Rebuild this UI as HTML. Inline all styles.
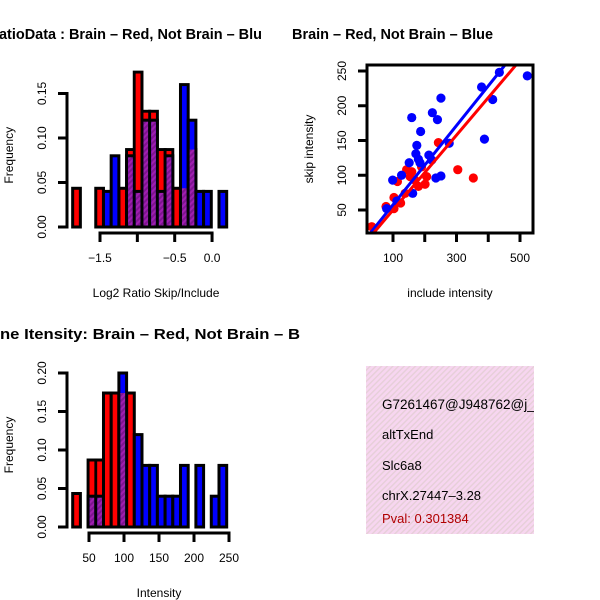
<!DOCTYPE html>
<html><head><meta charset="utf-8"><style>
html,body{margin:0;padding:0;background:#fff;}
svg{display:block;font-family:"Liberation Sans",Arial,sans-serif;}
</style></head><body>
<svg id="c" width="600" height="600" viewBox="0 0 600 600" xmlns="http://www.w3.org/2000/svg">
<defs>
<pattern id="pp" patternUnits="userSpaceOnUse" width="4" height="4" patternTransform="rotate(45)">
<rect width="4" height="4" fill="#a01fb0"/><rect width="2" height="4" fill="#7e1590"/>
</pattern>
<pattern id="pk" patternUnits="userSpaceOnUse" width="4" height="4" patternTransform="rotate(45)">
<rect width="4" height="4" fill="#f7d6f0"/><rect width="1.4" height="4" fill="#e6cfd8"/>
</pattern>
<clipPath id="sc"><rect x="367" y="65" width="166" height="168"/></clipPath>
<clipPath id="left"><rect x="0" y="0" width="300" height="600"/></clipPath>
</defs>
<g clip-path="url(#left)">
<text x="-1" y="39" font-size="14.5" font-weight="bold" textLength="263" lengthAdjust="spacingAndGlyphs">atioData : Brain – Red, Not Brain – Blu</text>
<text x="0" y="339" font-size="14.5" font-weight="bold" textLength="300" lengthAdjust="spacingAndGlyphs">ne Itensity: Brain – Red, Not Brain – B</text>
</g>
<text x="292" y="39" font-size="14.5" font-weight="bold" textLength="201" lengthAdjust="spacingAndGlyphs">Brain – Red, Not Brain – Blue</text>
<g id="h1"></g>
<g id="h2"></g>
<g id="sp"></g>
<g>
<rect x="366" y="366" width="168" height="168" fill="url(#pk)"/>
<svg x="366" y="366" width="168" height="168" overflow="hidden">
<text x="16" y="43" font-size="13.5">G7261467@J948762@j_</text>
<text x="16" y="73" font-size="13">altTxEnd</text>
<text x="16" y="104" font-size="13">Slc6a8</text>
<text x="16" y="134" font-size="13">chrX.27447–3.28</text>
<text x="16" y="157" font-size="13" fill="#b00000">Pval: 0.301384</text>
</svg>
</g>
</svg>
<script>
// ratio histogram data (frequency per bin)
const h1BinStart = -1.866;
const h1BinWidth = 0.1031;
const h1Red  = [0.0435,0,0,0.0435,0,0,0.0435,0.087,0.174,0.13,0.13,0.087,0.087,0.0435,0.0435,0.087,0,0,0,0];
const h1Blue = [0,0,0,0,0.04,0.08,0,0.08,0.04,0.12,0.12,0.04,0.08,0,0.16,0.12,0.04,0.04,0,0.04];
const h1XTicks = [-1.5,-1.0,-0.5,0.0];
const h1XLabels = ["-1.5","","-0.5","0.0"];
const h1YTicks = [0,0.05,0.10,0.15];
const h1YLabels = ["0.00","0.05","0.10","0.15"];
// intensity histogram data
const h2BinStart = 26.7;
const h2BinWidth = 11;
const h2Red  = [0.0435,0,0.087,0.087,0.174,0.174,0.174,0.174,0,0,0,0,0,0,0,0,0,0,0,0];
const h2Blue = [0,0,0.04,0.04,0,0,0.20,0,0.12,0.08,0.08,0.04,0.04,0.04,0.08,0,0.08,0,0.04,0.08];
const h2XTicks = [50,100,150,200,250];
const h2XLabels = ["50","100","150","200","250"];
const h2YTicks = [0,0.05,0.10,0.15,0.20];
const h2YLabels = ["0.00","0.05","0.10","0.15","0.20"];
// scatter data
const blueX = [523,435,379,414,251,159,224,240,187,388,277,175,172,180,151,213,222,127,99,251,235,162,112,80,185];
const blueY = [243,248,227,209,211,183,190,180,163,152,146,143,131,123,118,129,122,100,93,99,96,74,63,52,118];
const redX = [33,78,103,103,124,138,143,154,159,180,190,206,201,243,304,353,114,169];
const redY = [26,55,52,68,60,74,108,98,105,84,112,98,87,147,108,96,91,93];
const blueFit = [0.5,0.570];
const redFit = [-4.0,0.539];
const spXTicks = [100,200,300,400,500];
const spXLabels = ["100","","300","","500"];
const spYTicks = [50,100,150,200,250];
const spYLabels = ["50","100","150","200","250"];

const NS="http://www.w3.org/2000/svg";
function mk(parent,tag,attrs,text){const e=document.createElementNS(NS,tag);for(const k in attrs)e.setAttribute(k,attrs[k]);if(text!==undefined)e.textContent=text;parent.appendChild(e);return e;}

function hist(g,start,w,red,blue,xt,xl,yt,yl,xPx,yPx,axisY,xlab,yAxisX,name){
  const n=red.length;
  for(let i=0;i<n;i++){
    const x0=xPx(start+i*w),x1=xPx(start+(i+1)*w);
    const r=red[i];
    if(r>0){const e=mk(g,'rect',{x:x0,y:yPx(r),width:x1-x0,height:yPx(0)-yPx(r),fill:'#ff0000',stroke:'#000','stroke-width':3});
      
      }
  }
  for(let i=0;i<n;i++){
    const x0=xPx(start+i*w),x1=xPx(start+(i+1)*w);
    const r=red[i],b=blue[i],m=Math.min(r,b);
    if(b>0){const e=mk(g,'rect',{x:x0,y:yPx(b),width:x1-x0,height:yPx(0)-yPx(b),fill:'#0000ff',stroke:'#000','stroke-width':3});
      
      }
    if(m>0){const e=mk(g,'rect',{x:x0+1.5,y:yPx(m),width:x1-x0-3,height:yPx(0)-yPx(m)-1.5,fill:'url(#pp)'});
      
      }
  }
  for(let i=0;i<n;i++){
    const x0=xPx(start+i*w),x1=xPx(start+(i+1)*w);
    const r=red[i],b=blue[i];
    if(r>b&&b>0){mk(g,'rect',{x:x0+1.5,y:yPx(r)+1.5,width:x1-x0-3,height:yPx(b)-yPx(r)-1.5,fill:'#ff0000'});
      mk(g,'line',{x1:x0,x2:x1,y1:yPx(b),y2:yPx(b),stroke:'#000','stroke-width':3});}
  }
  const xa=mk(g,'g',{});
  
  
  mk(xa,'line',{x1:xPx(xt[0])-1.5,x2:xPx(xt[xt.length-1])+1.5,y1:axisY,y2:axisY,stroke:'#000','stroke-width':3});
  xt.forEach((t,i)=>{mk(xa,'line',{x1:xPx(t),x2:xPx(t),y1:axisY,y2:axisY+9,stroke:'#000','stroke-width':3});
    if(xl[i]){const e=mk(xa,'text',{x:xPx(t),y:axisY+29,'font-size':12,'text-anchor':'middle'},xl[i].replace('-','\u2212'));
      
      }});
  const xt2=mk(g,'text',{x:(xPx(xt[0])+xPx(xt[xt.length-1]))/2,y:axisY+64,'font-size':12,'text-anchor':'middle'},xlab);
  
  
  const ya=mk(g,'g',{});
  
  
  mk(ya,'line',{x1:yAxisX,x2:yAxisX,y1:yPx(yt[0])+1.5,y2:yPx(yt[yt.length-1])-1.5,stroke:'#000','stroke-width':3});
  yt.forEach((t,i)=>{mk(ya,'line',{x1:yAxisX-9,x2:yAxisX,y1:yPx(t),y2:yPx(t),stroke:'#000','stroke-width':3});
    const e=mk(ya,'text',{x:0,y:0,'font-size':12,'text-anchor':'middle',transform:`translate(46,${yPx(t)}) rotate(-90)`},yl[i]);
    
    });
  const yt2=mk(g,'text',{x:0,y:0,'font-size':12,'text-anchor':'middle',transform:`translate(13,${yPx(yt[0])-(yPx(yt[0])-yPx(yt[yt.length-1]))/2-5}) rotate(-90)`},'Frequency');
  
  
}
hist(document.getElementById('h1'),h1BinStart,h1BinWidth,h1Red,h1Blue,h1XTicks,h1XLabels,h1YTicks,h1YLabels,
  v=>100+(v+1.5)*74.7, v=>227-v/0.05*44.5, 233,'Log2 Ratio Skip/Include',67,'ratio');
hist(document.getElementById('h2'),h2BinStart,h2BinWidth,h2Red,h2Blue,h2XTicks,h2XLabels,h2YTicks,h2YLabels,
  v=>89+(v-50)*0.7, v=>527-v/0.05*38.5, 533,'Intensity',67,'intensity');

(function(){
  const g=document.getElementById('sp');
  const xPx=v=>393+(v-100)*0.3175, yPx=v=>210-(v-50)*0.695;
  const pts=mk(g,'g',{'clip-path':'url(#sc)'});
  redX.forEach((x,i)=>{const c=mk(pts,'circle',{cx:xPx(x),cy:yPx(redY[i]),r:4.6,fill:'#ff0000'});
    
    });
  blueX.forEach((x,i)=>{const c=mk(pts,'circle',{cx:xPx(x),cy:yPx(blueY[i]),r:4.6,fill:'#0000ff'});
    
    });
  const lb=mk(pts,'line',{x1:xPx(0),y1:yPx(blueFit[0]),x2:xPx(600),y2:yPx(blueFit[0]+blueFit[1]*600),stroke:'#0000ff','stroke-width':3});
  
  
  const lr=mk(pts,'line',{x1:xPx(0),y1:yPx(redFit[0]),x2:xPx(600),y2:yPx(redFit[0]+redFit[1]*600),stroke:'#ff0000','stroke-width':3});
  
  
  const box=mk(g,'rect',{x:367,y:65,width:166,height:168,fill:'none',stroke:'#000','stroke-width':3});
  
  
  spXTicks.forEach((t,i)=>{mk(g,'line',{x1:xPx(t),x2:xPx(t),y1:233,y2:242,stroke:'#000','stroke-width':3});
    if(spXLabels[i]){const e=mk(g,'text',{x:xPx(t),y:262,'font-size':12,'text-anchor':'middle'},spXLabels[i]);
      
      }});
  spYTicks.forEach((t,i)=>{mk(g,'line',{x1:358,x2:367,y1:yPx(t),y2:yPx(t),stroke:'#000','stroke-width':3});
    const e=mk(g,'text',{x:0,y:0,'font-size':12,'text-anchor':'middle',transform:`translate(346,${yPx(t)}) rotate(-90)`},spYLabels[i]);
    
    });
  const xt=mk(g,'text',{x:450,y:297,'font-size':12,'text-anchor':'middle'},'include intensity');
  
  
  const yt=mk(g,'text',{x:0,y:0,'font-size':12,'text-anchor':'middle',transform:'translate(313,149) rotate(-90)'},'skip intensity');
  
  
})();
</script>
</body></html>
